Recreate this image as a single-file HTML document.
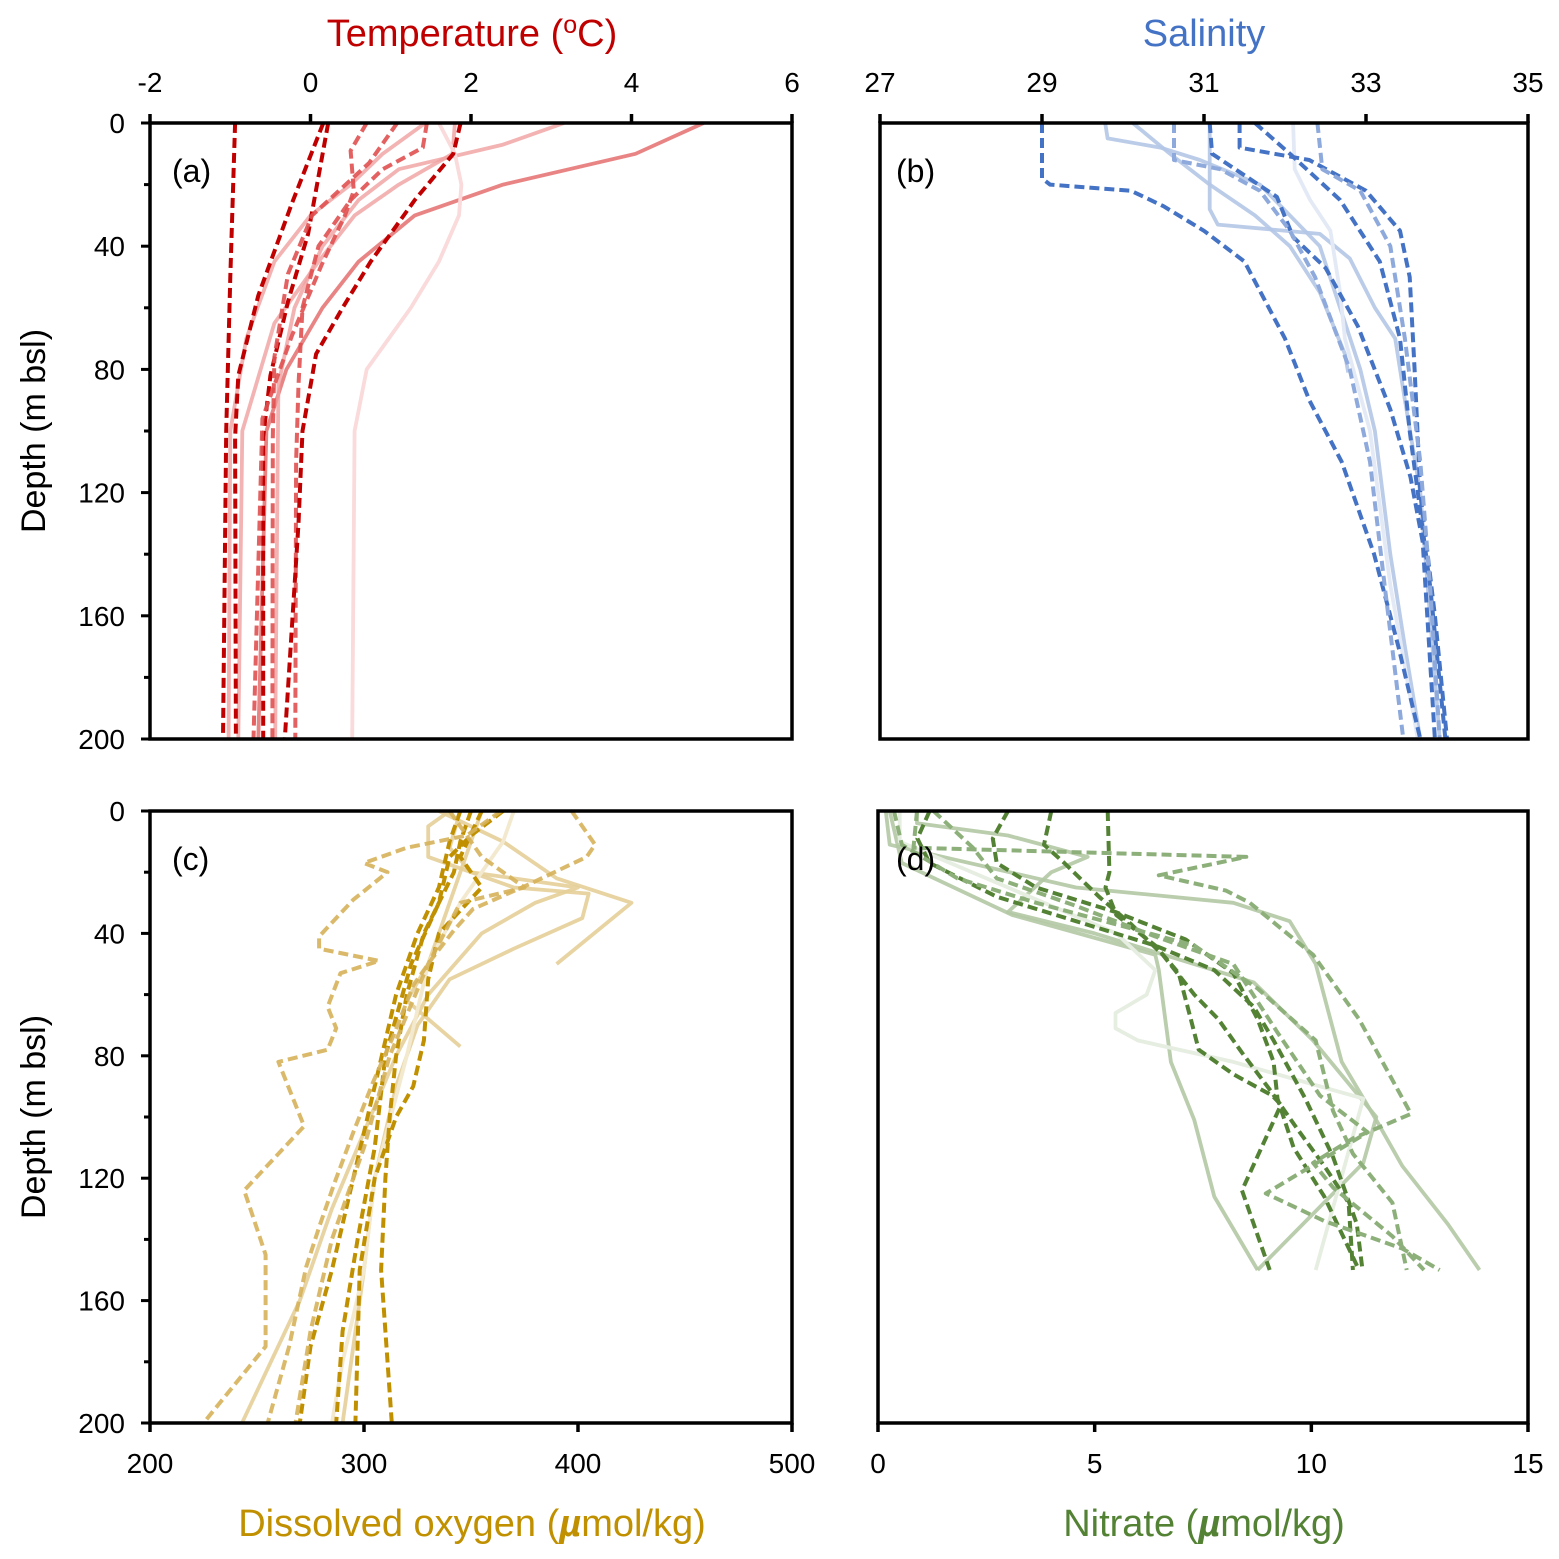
<!DOCTYPE html>
<html><head><meta charset="utf-8"><style>
html,body{margin:0;padding:0;background:#fff;}
svg{display:block;font-family:"Liberation Sans",Arial,sans-serif;}
</style></head><body>
<svg id="chart" width="1559" height="1559" viewBox="0 0 1559 1559" xmlns="http://www.w3.org/2000/svg">
<g id="marks"></g>
<g id="frames"></g>
<text x="472" y="46" text-anchor="middle" font-size="38" fill="#C00000">Temperature (<tspan font-size="25" dy="-13">o</tspan><tspan dy="13">C)</tspan></text>
<text x="1204" y="46" text-anchor="middle" font-size="38" fill="#4472C4">Salinity</text>
<text x="472" y="1536" text-anchor="middle" font-size="38" fill="#C09000">Dissolved oxygen (<tspan font-weight="bold" font-style="italic">µ</tspan>mol/kg)</text>
<text x="1204" y="1536" text-anchor="middle" font-size="38" fill="#548235">Nitrate (<tspan font-weight="bold" font-style="italic">µ</tspan>mol/kg)</text>
<text transform="translate(45,431) rotate(-90)" text-anchor="middle" font-size="34" fill="#000">Depth (m bsl)</text>
<text transform="translate(45,1117) rotate(-90)" text-anchor="middle" font-size="34" fill="#000">Depth (m bsl)</text>
<text x="172" y="182" font-size="32">(a)</text>
<text x="896" y="182" font-size="32">(b)</text>
<text x="172" y="870" font-size="32">(c)</text>
<text x="896" y="870" font-size="32">(d)</text>
</svg>
<script>
// ---------- data ----------
const depthTicks = [0,40,80,120,160,200];
const tempTicks = [-2,0,2,4,6];
const salTicks = [27,29,31,33,35];
const oxyTicks = [200,300,400,500];
const nitTicks = [0,5,10,15];

const tempDepths = [
 [0,50,100,200],
 [0,26,56,82,102,200],
 [0,36,58,82,102,200],
 [0,9,22,30,46,69,96,200],
 [0,13,30,49,76,102,200],
 [0,8,15,25,40,60,85,110,200],
 [0,10,25,45,60,75,100,130,200],
 [0,10,20,30,45,70,100,200],
 [0,10,20,30,45,65,100,200],
 [0,10,20,30,45,60,80,100,200],
 [0,7,15,25,40,60,85,200],
 [0,10,20,30,45,60,80,100,200]
];
const tempValues = [
 [-0.94,-1.0,-1.05,-1.09],
 [0.16,-0.23,-0.65,-0.9,-0.94,-0.93],
 [0.22,-0.03,-0.28,-0.5,-0.59,-0.59],
 [0.7,0.5,0.54,0.43,0.14,-0.23,-0.6,-0.71],
 [1.08,0.73,0.02,-0.28,-0.45,-0.47,-0.475],
 [1.45,1.4,0.9,0.5,0.1,-0.1,-0.15,-0.18,-0.19],
 [1.87,1.78,1.3,0.75,0.4,0.07,-0.1,-0.15,-0.32],
 [1.43,0.9,0.5,0.0,-0.45,-0.8,-1.0,-1.02],
 [1.8,1.77,1.1,0.55,0.1,-0.45,-0.85,-0.9],
 [4.9,4.05,2.4,1.3,0.6,0.15,-0.3,-0.55,-0.65],
 [3.16,2.4,1.1,0.6,0.15,-0.2,-0.4,-0.44],
 [1.6,1.8,1.88,1.85,1.6,1.25,0.7,0.55,0.52]
];
const tempStyle = ['d0','d0','d0','d1','d1','d1','d0','s1','s1','s0','s1','s2'];

const salDepths = [
 [0,18,20,22,27,35,45,55,70,90,110,140,170,200],
 [0,10,24,37,47,66,93,115,136,200],
 [0,8,12,22,35,50,80,120,160,200],
 [0,10,25,45,70,100,150,200],
 [0,15,22,40,70,110,150,200],
 [0,12,15,22,35,50,80,110,150,200],
 [0,5,8,12,20,30,40,60,80,100,140,170,200],
 [0,10,20,30,40,55,75,81],
 [0,28,33,36,44,60,70,90,120,160,200],
 [0,15,25,35,55,70,100,150,200]
];
const salValues = [
 [29.0,29.0,29.1,30.1,30.5,31.0,31.5,31.7,32.0,32.3,32.7,33.1,33.4,33.67],
 [31.07,31.1,31.9,32.1,32.5,32.9,33.3,33.55,33.7,33.85],
 [31.44,31.44,32.3,33.0,33.42,33.54,33.6,33.67,33.85,34.0],
 [31.63,32.06,32.68,33.17,33.42,33.54,33.79,33.98],
 [32.4,32.46,32.93,33.3,33.48,33.67,33.79,33.91],
 [30.63,30.63,31.2,31.69,32.06,32.37,32.8,33.05,33.23,33.46],
 [29.78,29.81,30.46,30.95,31.69,32.06,32.43,32.68,32.93,33.11,33.3,33.48,33.67],
 [30.12,30.58,31.07,31.63,32.06,32.43,32.74,32.78],
 [31.07,31.07,31.17,32.43,32.8,33.11,33.36,33.48,33.67,33.79,33.91],
 [32.1,32.12,32.31,32.56,32.68,32.74,33.05,33.3,33.64]
];
const salStyle = ['d0','d0','d0','d0','d1','d1','s1','s1','s1','s2'];

const oxyDepths = [
 [0,10,20,30,40,60,80,100,120,150,170,200],
 [0,8,15,30,50,80,110,140,170,200],
 [0,10,25,40,60,90,120,150,175,200],
 [0,15,25,40,55,75,90,100,120,150,200],
 [0,8,12,17,20,29,41,45,49,53,64,71,78,82,103,124,145,175,200],
 [0,11,15,24,32,39,48,57,73,89,105,122,136,149,175,200],
 [0,15,25,30,50,80,110,140,170,200],
 [0,10,22,30,50],
 [0,5,15,25,27,35,45,55,70,90,120,150,200],
 [0,12,20,25,30,40,60,80,100,130,160,200],
 [0,10,30,50,62,77],
 [0,10,30,50,80,120,150,180,200]
];
const oxyValues = [
 [350,345,342,335,328,320,315,312,310,308,310,313],
 [365,350,340,335,322,310,305,297,290,287],
 [345,340,335,325,315,305,295,285,275,270],
 [355,345,355,335,330,328,323,315,305,298,296],
 [364,348,320,300,311,295,279,279,307,289,283,287,283,260,272,244,254,254,225],
 [397,408,404,377,351,342,332,323,314,304,295,286,279,273,265,255],
 [340,355,375,345,330,312,300,285,275,268],
 [335,365,390,425,390],
 [340,330,330,370,405,402,370,340,325,315,305,300,290],
 [345,340,350,400,380,355,330,315,303,285,270,243],
 [355,350,340,330,320,345],
 [370,365,345,330,320,305,300,290,285]
];
const oxyStyle = ['d0','d0','d0','d0','d1','d1','d1','s1','s1','s1','s1','s2'];

const nitDepths = [
 [0,20,25,34,44,53,67,78,86,93,96,124,150],
 [0,11,17,28,37,47,60,68,79,91,104,116,128,150],
 [0,9,17,28,36,44,52,64,75,94,113,135,150],
 [0,9,17,25,33,42,53,68,82,94,110,126,150],
 [0,12,22,31,41,50,72,93,105,125,134,143,150],
 [0,11,22,30,37,44,58,75,98,112,128,150],
 [0,12,15,21,26,30,47,68,99,107,115,123,139,150],
 [0,11,25,30,36,50,82,101,116,135,150],
 [0,17,34,47,52,82,101,126,150],
 [0,4,8,15,20,33,40,47,56,75,100,115,150],
 [0,10,25,40,52,60,66,71,75,82,94,150]
];
const nitValues = [
 [5.3,5.34,5.25,5.5,6.4,6.94,7.2,7.4,8.2,9.1,9.3,8.4,9.04],
 [4.0,3.83,4.3,5.1,5.84,6.57,7.3,7.85,8.4,9.04,9.68,10.3,10.86,10.96],
 [1.19,0.91,1.19,2.74,4.57,6.4,7.76,8.67,9.13,9.86,10.5,11.05,11.18],
 [3.0,2.65,2.74,3.65,5.48,7.1,8.2,8.76,9.13,9.22,9.59,10.3,11.1],
 [1.28,2.19,2.74,4.57,6.4,8.2,9.2,10.2,11.3,8.95,10.3,12.1,12.96],
 [0.37,0.55,1.83,3.65,5.48,7.3,8.76,10.1,10.5,10.96,11.87,12.2],
 [0.9,0.82,8.5,6.48,8.03,8.58,10.04,11.1,12.3,10.96,10.04,10.5,11.87,12.6],
 [0.18,0.27,4.57,8.2,9.5,10.1,10.7,11.5,12.1,13.15,13.88],
 [0.27,0.55,3.1,6.4,6.48,6.76,7.3,7.76,8.76],
 [0.9,0.9,3.0,4.84,4.0,3.0,5.0,6.6,8.67,10.04,11.5,11.2,8.76],
 [0.5,0.5,3.0,5.5,6.4,6.2,5.48,5.48,6.0,8.2,11.2,10.1]
];
const nitStyle = ['d0','d0','d0','d0','d1','d1','d1','s1','s1','s1','s2'];

// ---------- layout ----------
const NS = 'http://www.w3.org/2000/svg';
const panels = [
 {id:'a', x0:150, x1:792, y0:123, y1:739, vmin:-2, vmax:6, ticks:tempTicks, tickPos:'top', depths:tempDepths, values:tempValues, style:tempStyle, yLabels:true, maxD:200,
  colors:{d0:['#C00000',1],d1:['#E05050',0.9],s0:['#E98484',1],s1:['#F0A0A0',0.8],s2:['#FADADA',1]}},
 {id:'b', x0:880, x1:1528, y0:123, y1:739, vmin:27, vmax:35, ticks:salTicks, tickPos:'top', depths:salDepths, values:salValues, style:salStyle, yLabels:false, maxD:200,
  colors:{d0:['#4472C4',1],d1:['#8EA9DB',1],s1:['#B4C7E7',0.9],s2:['#E3EAF6',1]}},
 {id:'c', x0:150, x1:792, y0:811, y1:1423, vmin:200, vmax:500, ticks:oxyTicks, tickPos:'bottom', depths:oxyDepths, values:oxyValues, style:oxyStyle, yLabels:true, maxD:200,
  colors:{d0:['#C09000',1],d1:['#D6B25A',0.9],s1:['#E6CF98',0.9],s2:['#F3E9CF',1]}},
 {id:'d', x0:878, x1:1528, y0:811, y1:1423, vmin:0, vmax:15, ticks:nitTicks, tickPos:'bottom', depths:nitDepths, values:nitValues, style:nitStyle, yLabels:false, maxD:200,
  colors:{d0:['#548235',1],d1:['#8DB07A',1],s1:['#B2C8A4',0.9],s2:['#E6EDE1',1]}}
];
const marks = document.getElementById('marks');
const frames = document.getElementById('frames');
function mk(tag, attrs, parent){const e=document.createElementNS(NS,tag);for(const k in attrs)e.setAttribute(k,attrs[k]);parent.appendChild(e);return e;}

panels.forEach(p=>{
  const xs = v => p.x0 + (v - p.vmin)/(p.vmax - p.vmin)*(p.x1 - p.x0);
  const ys = d => p.y0 + d/p.maxD*(p.y1 - p.y0);
  const order = p.style.map((s,i)=>i).sort((a,b)=>(p.style[a][0]==='d')-(p.style[b][0]==='d'));
  order.forEach(i=>{
    const st = p.style[i];
    const pts = p.depths[i].map((d,k)=>xs(p.values[i][k]).toFixed(1)+','+ys(d).toFixed(1)).join(' ');
    const c = p.colors[st];
    const dashed = st[0]==='d';
    const el = mk('polyline',{points:pts,fill:'none',stroke:c[0],'stroke-opacity':c[1],'stroke-width':dashed?4:3.8,'stroke-dasharray':dashed?'10,5':'none','stroke-linejoin':'round'},marks);
    
    
  });
  const box = mk('rect',{x:p.x0,y:p.y0,width:p.x1-p.x0,height:p.y1-p.y0,fill:'none',stroke:'#000','stroke-width':3.5},frames);
  
  
  p.ticks.forEach(t=>{
    const x = xs(t);
    const yEdge = p.tickPos==='top'?p.y0:p.y1;
    const dir = p.tickPos==='top'?-1:1;
    mk('line',{x1:x,x2:x,y1:yEdge,y2:yEdge+dir*9,stroke:'#000','stroke-width':3.5},frames);
    const lbl = mk('text',{x:x,y:p.tickPos==='top'?p.y0-31:p.y1+50,'text-anchor':'middle','font-size':28,fill:'#000'},frames);
    lbl.textContent = t;
    
    
  });
  if(p.yLabels){
    for(let d=0; d<=200; d+=20){
      const y = ys(d);
      const major = d%40===0;
      mk('line',{x1:p.x0-(major?9:6),x2:p.x0,y1:y,y2:y,stroke:'#000','stroke-width':3},frames);
    }
    depthTicks.forEach(d=>{
      const lbl = mk('text',{x:p.x0-25,y:ys(d)+10,'text-anchor':'end','font-size':28,fill:'#000'},frames);
      lbl.textContent = d;
      
      
    });
  }
});
</script>
</body></html>
